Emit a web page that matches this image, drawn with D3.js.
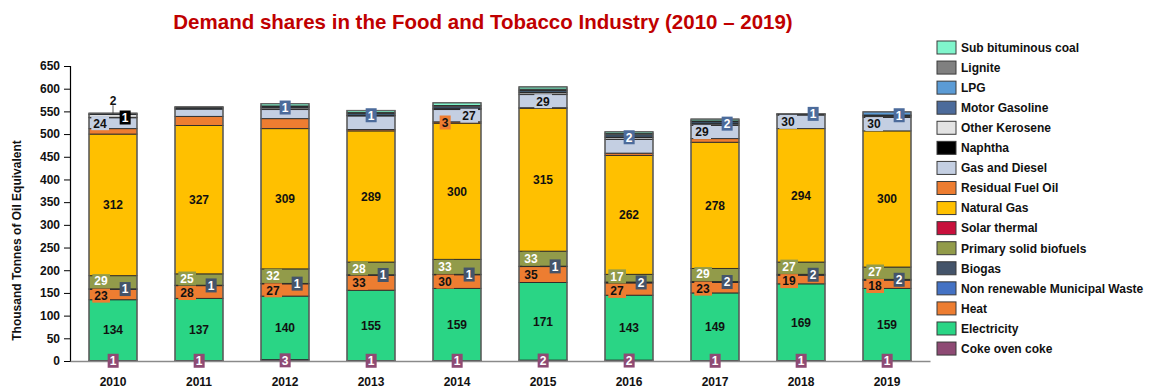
<!DOCTYPE html>
<html>
<head>
<meta charset="utf-8">
<script src="https://cdn.jsdelivr.net/npm/d3@7"></script>
<style>
  html, body { margin: 0; padding: 0; background: #fff; }
  svg { display: block; font-family: "Liberation Sans", Arial, sans-serif; }
</style>
</head>
<body>
<svg id="chart" width="1149" height="388"></svg>
<script>
// ---------------- DATA ----------------
const years = [2010, 2011, 2012, 2013, 2014, 2015, 2016, 2017, 2018, 2019];
const yTicks = [0, 50, 100, 150, 200, 250, 300, 350, 400, 450, 500, 550, 600, 650];

const cokeOvenCoke    = [1, 1, 3, 1, 1, 2, 2, 1, 1, 1];
const electricity     = [134, 137, 140, 155, 159, 171, 143, 149, 169, 159];
const heat            = [23, 28, 27, 33, 30, 35, 27, 23, 19, 18];
const municipalWaste  = [0, 0, 0, 0, 0, 0, 0, 0, 0, 0];
const biogas          = [1, 1, 1, 1, 1, 1, 2, 2, 2, 2];
const solidBiofuels   = [29, 25, 32, 28, 33, 33, 17, 29, 27, 27];
const solarThermal    = [0, 0, 0, 0, 0, 0, 0, 0, 0, 0];
const naturalGas      = [312, 327, 309, 289, 300, 315, 262, 278, 294, 300];
const residualFuelOil = [12, 20, 22, 3, 3, 1, 5, 8, 0, 0];
const gasDiesel       = [24, 16, 20, 30, 27, 29, 30, 29, 30, 30];
const naphtha         = [1, 0, 1, 0, 0, 0, 0, 0, 1, 2];
const otherKerosene   = [6, 0, 3, 1, 2, 4, 4, 3, 1, 2];
const motorGasoline   = [1, 2, 1, 1, 1, 2, 2, 2, 1, 1];
const lpg             = [2, 2, 2, 3, 3, 3, 4, 3, 0, 7];
const lignite         = [0, 1, 1, 3, 3, 3, 3, 2, 0, 0];
const subBituminous   = [0, 0, 5, 4, 6, 5, 4, 4, 0, 0];

// years whose value carries a data label
const labelYears = {
  coke: years,
  elec: years,
  heat: years,
  biogas: years,
  biofuel: years,
  gas: years,
  resid: [2014],
  gasdiesel: [2010, 2014, 2015, 2017, 2018, 2019],
  naphtha: [2010],
  motor: [2012, 2013, 2016, 2017, 2018, 2019],
  lpg: [2010]
};

// ---------------- SERIES (bottom to top) ----------------
const series = [
  {key: "coke",      name: "Coke oven coke",                values: cokeOvenCoke,    color: "#8e4a74"},
  {key: "elec",      name: "Electricity",                   values: electricity,     color: "#2ad585"},
  {key: "heat",      name: "Heat",                          values: heat,            color: "#ed7d31"},
  {key: "msw",       name: "Non renewable Municipal Waste", values: municipalWaste,  color: "#4472c4"},
  {key: "biogas",    name: "Biogas",                        values: biogas,          color: "#44546a"},
  {key: "biofuel",   name: "Primary solid biofuels",        values: solidBiofuels,   color: "#929b4a"},
  {key: "solar",     name: "Solar thermal",                 values: solarThermal,    color: "#c8103c"},
  {key: "gas",       name: "Natural Gas",                   values: naturalGas,      color: "#ffc000"},
  {key: "resid",     name: "Residual Fuel Oil",             values: residualFuelOil, color: "#ed7d31"},
  {key: "gasdiesel", name: "Gas and Diesel",                values: gasDiesel,       color: "#c4cfe2"},
  {key: "naphtha",   name: "Naphtha",                       values: naphtha,         color: "#000000"},
  {key: "kero",      name: "Other Kerosene",                values: otherKerosene,   color: "#e3e3e3"},
  {key: "motor",     name: "Motor Gasoline",                values: motorGasoline,   color: "#4c6b9b"},
  {key: "lpg",       name: "LPG",                           values: lpg,             color: "#5b9bd5"},
  {key: "lignite",   name: "Lignite",                       values: lignite,         color: "#808080"},
  {key: "subbit",    name: "Sub bituminous coal",           values: subBituminous,   color: "#80f5cc"}
];

const rows = years.map((y, i) => {
  const r = {year: y};
  series.forEach(s => r[s.key] = s.values[i]);
  return r;
});

// ---------------- LAYOUT ----------------
const svg = d3.select("#chart");
const plot = {left: 70, right: 930, top: 66, bottom: 361};

const x = d3.scaleBand().domain(years).range([plot.left, plot.right])
  .paddingInner(0.442).paddingOuter(0.221);
const y = d3.scaleLinear().domain([0, 650]).range([plot.bottom, plot.top]);

const stack = d3.stack().keys(series.map(s => s.key));
const stacked = stack(rows);

// Title
svg.append("text")
  .attr("x", 483).attr("y", 29)
  .attr("text-anchor", "middle")
  .attr("font-size", 20.5).attr("font-weight", "bold")
  .attr("fill", "#c00000")
  .text("Demand shares in the Food and Tobacco Industry (2010 \u2013 2019)");

// Y axis
const yAxis = svg.append("g")
  .attr("transform", `translate(${plot.left},0)`)
  .call(d3.axisLeft(y).tickValues(yTicks).tickSize(6).tickPadding(4));
yAxis.select(".domain").attr("stroke", "#000").attr("stroke-width", 1.2);
yAxis.selectAll(".tick line").attr("stroke", "#000");
yAxis.selectAll(".tick text")
  .attr("font-size", 12).attr("font-weight", "bold")
  .attr("font-family", "'Liberation Sans', Arial, sans-serif").attr("fill", "#111");

// Y title
svg.append("text")
  .attr("transform", `translate(21,${(plot.top + plot.bottom) / 2 + 27}) rotate(-90)`)
  .attr("text-anchor", "middle")
  .attr("font-size", 12).attr("font-weight", "bold").attr("fill", "#111")
  .text("Thousand Tonnes of Oil Equivalent");

// Bars
const layers = svg.append("g").selectAll("g").data(stacked).join("g")
  .attr("fill", d => series.find(s => s.key === d.key).color);

layers.selectAll("rect").data(d => d).join("rect")
  .attr("x", d => x(d.data.year))
  .attr("width", x.bandwidth())
  .attr("y", d => y(d[1]))
  .attr("height", d => Math.max(0, y(d[0]) - y(d[1])))
  .attr("stroke", "#2a2a2a")
  .attr("stroke-width", d => (d[1] - d[0]) > 0 ? 0.9 : 0);

// outer bar outline
const totals = rows.map(r => d3.sum(series, s => r[s.key]));
svg.append("g").selectAll("rect").data(years).join("rect")
  .attr("x", d => x(d))
  .attr("width", x.bandwidth())
  .attr("y", (d, i) => y(totals[i]))
  .attr("height", (d, i) => y(0) - y(totals[i]))
  .attr("fill", "none")
  .attr("stroke", "#666")
  .attr("stroke-width", 1.2);

// X axis baseline and labels
const xAxis = svg.append("g")
  .attr("transform", `translate(0,${plot.bottom})`)
  .call(d3.axisBottom(x).tickSize(0).tickPadding(16));
xAxis.select(".domain").attr("stroke", "#8a8a8a").attr("stroke-width", 1.5);
xAxis.selectAll(".tick text")
  .attr("font-size", 12).attr("font-weight", "bold")
  .attr("font-family", "'Liberation Sans', Arial, sans-serif").attr("fill", "#111");

// ---------------- DATA LABELS ----------------
const labelStyle = {
  coke:      {bg: "#8e4a74", fg: "#fff", dx: 0},
  elec:      {bg: null,      fg: "#111", dx: 0},
  heat:      {bg: "#ed7d31", fg: "#111", dx: -12},
  biogas:    {bg: "#44546a", fg: "#fff", dx: 12},
  biofuel:   {bg: "#929b4a", fg: "#fff", dx: -12},
  gas:       {bg: null,      fg: "#111", dx: 0},
  resid:     {bg: "#ed7d31", fg: "#111", dx: -12},
  gasdiesel: {bg: "#c4cfe2", fg: "#111", dx: 0},
  naphtha:   {bg: "#000000", fg: "#fff", dx: 12},
  motor:     {bg: "#4c6b9b", fg: "#fff", dx: 0},
  lpg:       {bg: null,      fg: "#111", dx: 0}
};

const MIN_GAP = 14.5;
const heatLabels = {};
const labelsG = svg.append("g");
stacked.forEach(layer => {
  const key = layer.key;
  const st = labelStyle[key];
  if (!st) return;
  layer.forEach((d, i) => {
    const yr = d.data.year;
    if (!labelYears[key].includes(yr)) return;
    const val = d[1] - d[0];
    let cx = x(yr) + x.bandwidth() / 2 + st.dx;
    let cy = y((d[0] + d[1]) / 2);
    if (key === "gasdiesel") {
      if (labelYears.resid.includes(yr)) cx += 12;
      else if (labelYears.motor.includes(yr) || labelYears.naphtha.includes(yr)) cx -= 13;
    }
    if (key === "motor" && labelYears.gasdiesel.includes(yr)) cx += 12;
    if (key === "biofuel" && heatLabels[yr]) {
      // keep the two stacked left-hand labels from colliding
      const h = heatLabels[yr];
      const gap = h.cy - cy;
      if (gap < MIN_GAP) {
        const shift = (MIN_GAP - gap) / 2;
        cy -= shift;
        h.cy += shift;
        h.g.attr("transform", `translate(${h.cx},${h.cy})`);
      }
    }
    if (key === "lpg") {
      // label above the bar with a leader line
      const topY = y(totals[i]);
      labelsG.append("line")
        .attr("x1", cx).attr("x2", cx)
        .attr("y1", topY - 8).attr("y2", y((d[0] + d[1]) / 2))
        .attr("stroke", "#333").attr("stroke-width", 0.8);
      cy = topY - 13;
    }
    const g = labelsG.append("g").attr("transform", `translate(${cx},${cy})`);
    const t = g.append("text")
      .attr("text-anchor", "middle")
      .attr("dy", "0.36em")
      .attr("font-size", 12).attr("font-weight", "bold")
      .attr("fill", st.fg)
      .text(val);
    if (st.bg) {
      const bb = t.node().getBBox();
      g.insert("rect", "text")
        .attr("x", bb.x - 2).attr("y", -7)
        .attr("width", bb.width + 4).attr("height", 14)
        .attr("fill", st.bg);
    }
    if (key === "heat") heatLabels[yr] = {g, cx, cy};
  });
});

// ---------------- LEGEND ----------------
const legendItems = series.slice().reverse();
const legend = svg.append("g").attr("transform", "translate(937,41)");
const li = legend.selectAll("g").data(legendItems).join("g")
  .attr("transform", (d, i) => `translate(0,${i * 20.07})`);
li.append("rect")
  .attr("width", 19).attr("height", 13)
  .attr("fill", d => d.color)
  .attr("stroke", "#3a3a3a").attr("stroke-width", 1);
li.append("text")
  .attr("x", 24).attr("y", 6.5).attr("dy", "0.36em")
  .attr("font-size", 12).attr("font-weight", "bold").attr("fill", "#111")
  .text(d => d.name);
</script>
</body>
</html>
